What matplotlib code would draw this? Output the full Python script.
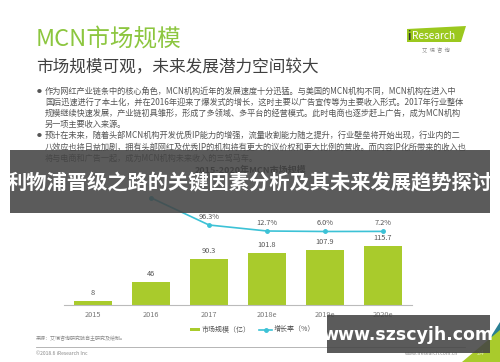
import matplotlib
matplotlib.use("Agg")
import matplotlib.pyplot as plt
from matplotlib.patches import Rectangle, Polygon
import numpy as np

plt.rcParams['font.family'] = ['Noto Sans CJK SC', 'DejaVu Sans']

years = ['2015', '2016', '2017', '2018e', '2019e', '2020e']
market = [8, 46, 90.3, 101.8, 107.9, 115.7]
growth_years = ['2016', '2017', '2018e', '2019e', '2020e']
growth = [475.0, 96.3, 12.7, 6.0, 7.2]

bullet_lines = [
    '作为网红产业链条中的核心角色，MCN机构近年的发展速度十分迅猛。与美国的MCN机构不同，MCN机构在进入中',
    '国后迅速进行了本土化，并在2016年迎来了爆发式的增长，这时主要以广告宣传等为主要收入形式。2017年行业整体',
    '规模继续快速发展，产业链初具雏形，形成了多领域、多平台的经营模式。此时电商也逐步赶上广告，成为MCN机构',
    '另一项主要收入来源。',
    '预计在未来，随着头部MCN机构开发优质IP能力的增强，流量收割能力随之提升，行业壁垒将开始出现，行业内的二',
    '八效应也将日益加剧，拥有头部网红及优秀IP的机构将有更大的议价权和更大比例的营收。而内容IP化所带来的收入也',
    '将与电商和广告一起，成为MCN机构未来收入的三驾马车。',
]
bullet_y = [91, 102, 113, 124, 135.5, 147, 158]

W, H = 500, 362
GREEN = '#a9cb2c'
TEAL = '#3cc2d6'


def fx(x):
    return x / W


def fy(y):
    return 1 - y / H


fig = plt.figure(figsize=(5, 3.62), dpi=100)
fig.patch.set_facecolor('white')

# header
fig.text(fx(36), fy(39), 'MCN市场规模', fontsize=17, color='#8cc63f', va='center')
fig.text(fx(36), fy(68), '市场规模可观，未来发展潜力空间较大', fontsize=12, color='#404040', va='center')

# logo
fig.add_artist(Polygon([(fx(407), fy(29)), (fx(466), fy(26)), (fx(461), fy(42)), (fx(407), fy(42))],
                       closed=True, transform=fig.transFigure, facecolor='#9bc81e', edgecolor='none'))
fig.text(fx(409), fy(36), 'i', fontsize=8, color='#333333', va='center', ha='center', fontweight='bold')
fig.text(fx(412), fy(36), 'Research', fontsize=7.3, color='white', va='center')
fig.text(fx(436), fy(50), '艾  瑞  咨  询', fontsize=3.8, color='#888888', va='center', ha='center')

# bullets
for i, (line, y) in enumerate(zip(bullet_lines, bullet_y)):
    if i in (0, 4):
        fig.text(fx(39.5), fy(y), '●', fontsize=3.5, color='#555555', va='center', ha='center')
    fig.text(fx(45), fy(y), line, fontsize=5.9, color='#555555', va='center')

fig.text(fx(251), fy(170), '2015-2020年MCN市场规模', fontsize=6.5, color='#333333',
         va='center', ha='center', fontweight='bold')

# chart
ax = fig.add_axes([fx(64), fy(305), 348 / W, 155 / H])
x = np.arange(len(years))
ax.bar(x, market, width=0.64, color=GREEN, zorder=2)
for xi, v in zip(x, market):
    ax.text(xi, v + 8 / 0.51, f'{v:g}', ha='center', va='center', fontsize=5.3, color='#555555')
ax.set_xlim(-0.5, 5.5)
ax.set_ylim(0, 304)
ax.set_xticks(x, years)
ax.tick_params(axis='x', length=0, pad=4, labelsize=5.3, labelcolor='#777777')
ax.set_yticks([])
for s in ['top', 'left', 'right']:
    ax.spines[s].set_visible(False)
ax.spines['bottom'].set_color('#bbbbbb')
ax.spines['bottom'].set_linewidth(0.8)
ax.patch.set_alpha(0)

ax2 = ax.twinx()
gx = [years.index(g) for g in growth_years]
ax2.plot(gx, growth, color=TEAL, lw=1.2, marker='o', ms=2.5, zorder=3)
for xi, v in zip(gx[1:], growth[1:]):
    ax2.text(xi, v + 8 / 0.0718, f'{v:.1f}%', ha='center', va='center', fontsize=5.3, color='#555555')
ax2.set_ylim(-1018, 1141)
ax2.set_yticks([])
ax2.axis('off')

# legend
fig.add_artist(Rectangle((fx(190), fy(331)), 10 / W, 3.5 / H, transform=fig.transFigure,
                         facecolor=GREEN, edgecolor='none'))
fig.text(fx(202), fy(329.5), '市场规模（亿）', fontsize=5, color='#555555', va='center')
fig.add_artist(plt.Line2D([fx(259), fx(272)], [fy(329.5), fy(329.5)], transform=fig.transFigure,
                          color=TEAL, lw=1.2))
fig.add_artist(plt.Line2D([fx(265.5)], [fy(329.5)], transform=fig.transFigure,
                          color=TEAL, marker='o', ms=2.5))
fig.text(fx(274), fy(329.5), '增长率（%）', fontsize=5, color='#555555', va='center')

# footer
fig.text(fx(36), fy(339), '来源：艾瑞咨询研究院自主研究及绘制。', fontsize=3.6, color='#888888', va='center')
fig.add_artist(plt.Line2D([fx(36), fx(465)], [fy(347), fy(347)], transform=fig.transFigure,
                          color='#aaaaaa', lw=0.6))
fig.text(fx(36), fy(353.5), '©2018.6 iResearch Inc', fontsize=3.6, color='#888888', va='center')
fig.text(fx(405), fy(353.5), 'www.iresearch.com.cn', fontsize=3.6, color='#888888', va='center')
fig.add_artist(Polygon([(fx(490), fy(338)), (fx(500), fy(322)), (fx(500), fy(340))], closed=True,
                       transform=fig.transFigure, facecolor='#2a7f93', edgecolor='none'))
fig.add_artist(Polygon([(fx(462), fy(362)), (fx(500), fy(362)), (fx(500), fy(330))], closed=True,
                       transform=fig.transFigure, facecolor='#a9cb2c', edgecolor='none'))
fig.text(fx(481), fy(353), '24', fontsize=5, color='#d8e8a0', va='center', ha='center')

# overlay banners
fig.add_artist(Rectangle((fx(10), fy(212.5)), 480 / W, 62.5 / H, transform=fig.transFigure,
                         facecolor='#444444', edgecolor='none', alpha=0.88, zorder=10))
fig.text(fx(250), fy(183), '利物浦晋级之路的关键因素分析及其未来发展趋势探讨', fontsize=14.6,
         color='white', fontweight='bold', va='center', ha='center', zorder=11)
fig.add_artist(Rectangle((fx(327), fy(353)), 163 / W, 38 / H, transform=fig.transFigure,
                         facecolor='#444444', edgecolor='none', alpha=0.88, zorder=10))
fig.text(fx(408), fy(335), 'www.szscyjh.com', fontsize=12.5, color='white', fontweight='bold',
         va='center', ha='center', family=['DejaVu Sans'], zorder=11)

fig.savefig('out.png', dpi=100)
